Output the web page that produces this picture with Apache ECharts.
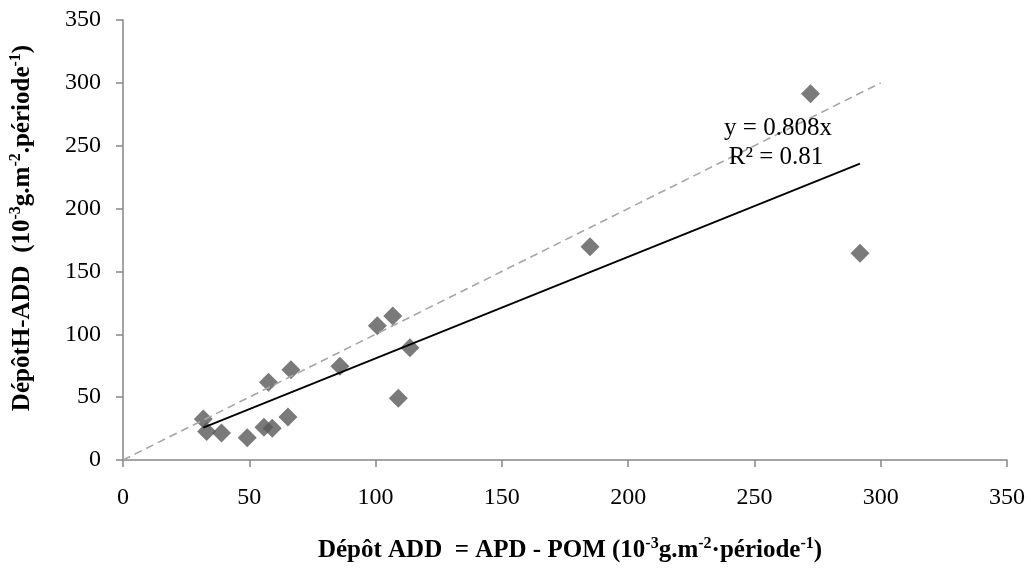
<!DOCTYPE html>
<html>
<head>
<meta charset="utf-8">
<script src="https://cdn.jsdelivr.net/npm/echarts@6/dist/echarts.min.js"></script>
<style>
html,body{margin:0;padding:0;background:#fff;}
#chart{width:1031px;height:568px;}
</style>
</head>
<body>
<div id="chart"></div>
<script>
// Data
const depotADD = [31.8, 33.1, 39.0, 49.2, 55.8, 59.1, 65.3, 57.6, 66.5, 85.9, 100.7, 106.8, 113.6, 109.0, 184.9, 272.2, 291.8];
const depotHADD = [32.7, 22.6, 21.4, 17.7, 26.1, 25.3, 34.3, 61.8, 71.7, 74.6, 106.7, 114.6, 89.2, 49.1, 169.7, 291.4, 164.5];
const trendX = [31.8, 291.8];
const trendY = [25.7, 235.8];
const refX = [0, 300];
const refY = [0, 300];
const equationText = ['y = 0.808x', 'R² = 0.81'];

const FONT = '"Liberation Serif", "Times New Roman", serif';

const points = depotADD.map((x, i) => [x, depotHADD[i]]);
const trend = trendX.map((x, i) => [x, trendY[i]]);
const ref = refX.map((x, i) => [x, refY[i]]);

const chart = echarts.init(document.getElementById('chart'), null, {renderer: 'canvas'});

const richT = {
  b: {fontFamily: FONT, fontWeight: 'bold', fontSize: 25, color: '#000', lineHeight: 29},
  s: {fontFamily: FONT, fontWeight: 'bold', fontSize: 16, color: '#000', verticalAlign: 'top'}
};

const axisCommon = {
  min: 0, max: 350, interval: 50,
  axisLine: {show: true, onZero: false, lineStyle: {color: '#868686', width: 1.5}},
  axisTick: {show: true, inside: false, length: 7, lineStyle: {color: '#868686', width: 1.5}},
  splitLine: {show: false},
  axisLabel: {fontFamily: FONT, fontSize: 24, color: '#000'}
};

chart.setOption({
  animation: false,
  backgroundColor: '#fff',
  grid: {left: 123, right: 24, top: 20, bottom: 106, containLabel: false},
  xAxis: Object.assign({}, axisCommon, {
    type: 'value',
    axisLabel: Object.assign({}, axisCommon.axisLabel, {margin: 26}),
    name: '{b|Dépôt ADD  = APD - POM (10}{s|-3}{b|g.m}{s|-2}{b|·période}{s|-1}{b|)}',
    nameLocation: 'middle',
    nameGap: 76,
    nameTextStyle: {rich: richT, padding: [0, 0, 0, 10]}
  }),
  yAxis: Object.assign({}, axisCommon, {
    type: 'value',
    axisLabel: Object.assign({}, axisCommon.axisLabel, {margin: 22}),
    name: '{b|DépôtH-ADD  (10}{s|-3}{b|g.m}{s|-2}{b|.période}{s|-1}{b|)}',
    nameLocation: 'middle',
    nameRotate: 90,
    nameGap: 86,
    nameTextStyle: {rich: richT, padding: [0, 0, 0, 24]}
  }),
  graphic: [
    {type: 'text', x: 778, y: 128, z: 100,
     style: {text: equationText[0], font: '25px ' + FONT, fill: '#000', textAlign: 'center', textVerticalAlign: 'middle'}},
    {type: 'text', x: 776, y: 157, z: 100,
     style: {text: equationText[1], font: '25px ' + FONT, fill: '#000', textAlign: 'center', textVerticalAlign: 'middle'}}
  ],
  series: [
    {
      type: 'scatter',
      data: points,
      symbol: 'diamond',
      symbolSize: 19,
      itemStyle: {color: '#595959'},
      z: 2
    },
    {
      type: 'line',
      data: ref,
      showSymbol: false,
      symbol: 'none',
      lineStyle: {color: '#a6a6a6', width: 1.6, type: [8, 5]},
      z: 3
    },
    {
      type: 'line',
      data: trend,
      showSymbol: false,
      symbol: 'none',
      lineStyle: {color: '#000', width: 1.8},
      z: 4
    }
  ]
});
</script>
</body>
</html>
